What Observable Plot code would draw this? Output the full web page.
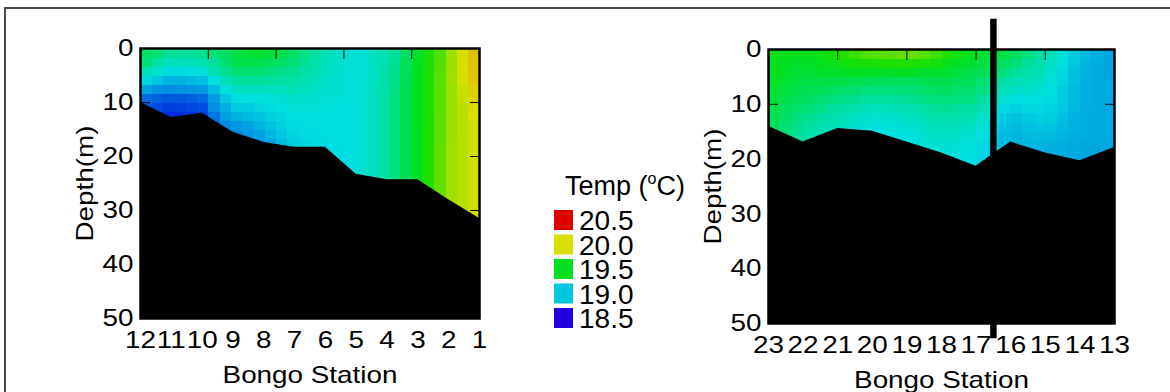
<!DOCTYPE html>
<html><head><meta charset="utf-8">
<script src="https://cdn.jsdelivr.net/npm/d3@7"></script>
<script src="https://cdn.jsdelivr.net/npm/@observablehq/plot@0.6"></script>
<style>
body{margin:0;background:#fff;}
#wrap{position:relative;width:1170px;height:392px;overflow:hidden;font-family:"Liberation Sans",Arial,sans-serif;background:#fff;}
#border{position:absolute;left:4px;top:7px;width:2000px;height:1000px;border-top:2px solid #4a4a4a;border-left:2px solid #4a4a4a;}
#left{position:absolute;left:0;top:0;}
#right{position:absolute;left:640px;top:0;}
#legend{position:absolute;left:0;top:0;z-index:5;}
</style></head>
<body><div id="wrap"><div id="border"></div><div id="left"></div><div id="right"></div><svg id="legend" width="1170" height="392" style="pointer-events:none"></svg></div>
<script>
// ---- data ----
const depthLevels = [0, 3, 6, 9, 12, 15, 18, 21, 24, 27, 30, 33];

const leftStations = [12, 11, 10, 9, 8, 7, 6, 5, 4, 3, 2, 1];
const leftProfiles = [
  [19.43, 19.37, 19.08, 18.74, 18.66],
  [19.35, 19.17, 18.90, 18.68, 18.58, 18.58],
  [19.37, 19.22, 18.95, 18.72, 18.62, 18.62],
  [19.45, 19.42, 19.30, 19.10, 18.95, 18.78, 18.72],
  [19.50, 19.42, 19.30, 19.12, 19.03, 18.93, 18.83, 18.80],
  [19.40, 19.35, 19.28, 19.18, 19.12, 19.08, 19.02, 19.00],
  [19.25, 19.22, 19.18, 19.14, 19.10, 19.10, 19.08, 19.08],
  [19.12, 19.10, 19.10, 19.10, 19.10, 19.10, 19.10, 19.10, 19.10],
  [19.25, 19.27, 19.28, 19.30, 19.30, 19.30, 19.30, 19.30, 19.30, 19.30],
  [19.48, 19.50, 19.50, 19.50, 19.50, 19.50, 19.50, 19.50, 19.50, 19.50],
  [19.75, 19.75, 19.76, 19.76, 19.77, 19.77, 19.78, 19.78, 19.78, 19.78, 19.78],
  [20.30, 20.27, 20.24, 20.15, 20.06, 20.00, 20.00, 20.00, 20.00, 20.00, 20.00, 20.00]
];
const leftBottom = [10.0, 12.8, 12.0, 15.5, 17.4, 18.3, 18.3, 23.3, 24.3, 24.3, 28.0, 31.5];
const leftTopTicks = [9.8, 7.6, 5.4, 3.2];

const rightStations = [23, 22, 21, 20, 19, 18, 17, 16, 15, 14, 13];
const rightProfiles = [
  [19.55, 19.52, 19.50, 19.47, 19.44, 19.42],
  [19.50, 19.47, 19.44, 19.40, 19.35, 19.30, 19.28],
  [19.60, 19.52, 19.43, 19.35, 19.25, 19.20],
  [19.72, 19.55, 19.40, 19.30, 19.15, 19.10],
  [19.77, 19.57, 19.40, 19.32, 19.20, 19.10, 19.08],
  [19.66, 19.52, 19.43, 19.37, 19.30, 19.20, 19.15, 19.12],
  [19.50, 19.45, 19.40, 19.35, 19.25, 19.15, 19.10, 19.08, 19.08],
  [19.45, 19.37, 19.25, 19.10, 18.98, 18.93, 18.93],
  [19.30, 19.22, 19.17, 19.10, 19.05, 18.98, 18.93, 18.92],
  [18.98, 18.95, 18.93, 18.93, 18.92, 18.92, 18.90, 18.90],
  [18.88, 18.88, 18.90, 18.90, 18.90, 18.90, 18.90]
];
const rightBottom = [14.0, 16.9, 14.4, 14.9, 16.9, 18.9, 21.3, 16.9, 18.9, 20.3, 17.9];
const rightTopTicks = [21, 19, 17, 15];
const dividerStation = [16.5];
const dividerDepths = [-5.5, 52.8];

const depthTicks = [0, 10, 20, 30, 40, 50];
const depthRange = [0, 50];

const tempStops  = [18.5, 18.6, 18.7, 18.8, 18.9, 19.0, 19.1, 19.2, 19.3, 19.4, 19.5, 19.6, 19.7, 19.8, 20.0, 20.2, 20.3, 20.5];
const tempColors = ["#2000e0","#0030e0","#0060e0","#0090e0","#00a8e0","#00c8e0","#00e0e0","#00e0c0","#00e0a0","#00e060","#00e020","#20e000","#60e000","#a0e000","#d8e000","#e0c000","#e0a800","#e00000"];

const legendTemps  = [20.5, 20.0, 19.5, 19.0, 18.5];
const legendLabels = ["20.5", "20.0", "19.5", "19.0", "18.5"];
const legendTitle = "Temp (";
const xLabel = "Bongo Station";
const yLabel = "Depth(m)";

// ---- build ----
const FONT = '"Liberation Sans", Arial, sans-serif';
const TEXT_STRETCH = 1.16;

function sampleRows(stations, profiles) {
  const out = [];
  stations.forEach((s, i) => profiles[i].forEach((t, j) => out.push({station: s, depth: depthLevels[j], temp: t})));
  return out;
}
function seabedRows(stations, bottom) {
  return stations.map((s, i) => ({station: s, depth: bottom[i]}));
}

function panel({stations, profiles, bottom, topTicks, width, height, margins, extra = []}) {
  const x0 = stations[0], x1 = stations[stations.length - 1];
  const svg = Plot.plot({
    width, height, ...margins,
    x: {domain: [x0, x1], axis: null},
    y: {domain: depthRange, reverse: true, axis: null},
    color: {type: "linear", domain: tempStops, range: tempColors, clamp: true, interpolate: "rgb"},
    style: {fontFamily: FONT, fontSize: "24px", background: "transparent", overflow: "visible", color: "#000"},
    marks: [
      Plot.raster(sampleRows(stations, profiles), {
        x: "station", y: "depth", fill: "temp", interpolate: "barycentric",
        width: 30, height: 30, x1: x0, x2: x1, y1: depthRange[0], y2: depthRange[1],
        imageRendering: "pixelated"
      }),
      Plot.areaY(seabedRows(stations, bottom), {x: "station", y1: "depth", y2: depthRange[1], fill: "#000"}),
      Plot.frame({stroke: "#000", strokeWidth: 2.5}),
      Plot.axisY(depthTicks, {anchor: "left", tickSize: 10, dx: 10, fill: "none", stroke: "#000", label: null}),
      Plot.axisY(depthTicks, {anchor: "right", tickSize: 10, dx: -10, fill: "none", stroke: "#000", label: null}),
      Plot.axisX(topTicks, {anchor: "top", tickSize: 10, dy: 10, fill: "none", stroke: "#000", label: null}),
      Plot.axisY(depthTicks, {anchor: "left", tickSize: 0, tickPadding: 7, fontSize: 24, fill: "#000", label: null}),
      Plot.axisX(stations, {anchor: "bottom", tickSize: 0, tickPadding: 12, fontSize: 24, fill: "#000", tickFormat: d => String(d), label: null}),
      Plot.text([xLabel], {text: d => d, frameAnchor: "bottom", dy: 57, lineAnchor: "middle", textAnchor: "middle", fontSize: 24, fill: "#000"}),
      Plot.text([yLabel], {text: d => d, frameAnchor: "left", dx: -55, rotate: -90, lineAnchor: "middle", textAnchor: "middle", fontSize: 24, fill: "#000"}),
      ...extra
    ]
  });
  // the reference typeface is wider than Arial: stretch each text about its anchor
  svg.querySelectorAll("text").forEach(t => {
    const tr = t.getAttribute("transform") || "";
    t.setAttribute("transform", tr + ` scale(${TEXT_STRETCH},1)`);
  });
  return svg;
}

const leftPlot = panel({
  stations: leftStations, profiles: leftProfiles, bottom: leftBottom, topTicks: leftTopTicks,
  width: 500, height: 392,
  margins: {marginLeft: 140, marginRight: 21, marginTop: 48, marginBottom: 74}
});
document.getElementById("left").appendChild(leftPlot);

const rightPlot = panel({
  stations: rightStations, profiles: rightProfiles, bottom: rightBottom, topTicks: rightTopTicks,
  width: 530, height: 392,
  margins: {marginLeft: 128, marginRight: 56, marginTop: 49, marginBottom: 69},
  extra: [Plot.ruleX(dividerStation, {x: d => d, y1: dividerDepths[0], y2: dividerDepths[1], stroke: "#000", strokeWidth: 6.5})]
});
document.getElementById("right").appendChild(rightPlot);

// ---- legend ----
const colorScale = leftPlot.scale("color");
const lg = d3.select("#legend").style("font-family", FONT);
const title = lg.append("text").attr("x", 565).attr("y", 195).attr("font-size", 27).attr("fill", "#000");
title.append("tspan").text(legendTitle);
title.append("tspan").attr("font-size", 16).attr("dy", -11).text("o");
title.append("tspan").attr("dy", 11).text("C)");
legendTemps.forEach((t, k) => {
  lg.append("rect").attr("x", 554).attr("y", 210 + k * 24.5).attr("width", 19).attr("height", 20)
    .attr("fill", colorScale.apply(t));
  lg.append("text").attr("x", 579).attr("y", 230 + k * 24.5).attr("font-size", 28).attr("fill", "#000")
    .text(legendLabels[k]);
});
</script>
</body></html>
